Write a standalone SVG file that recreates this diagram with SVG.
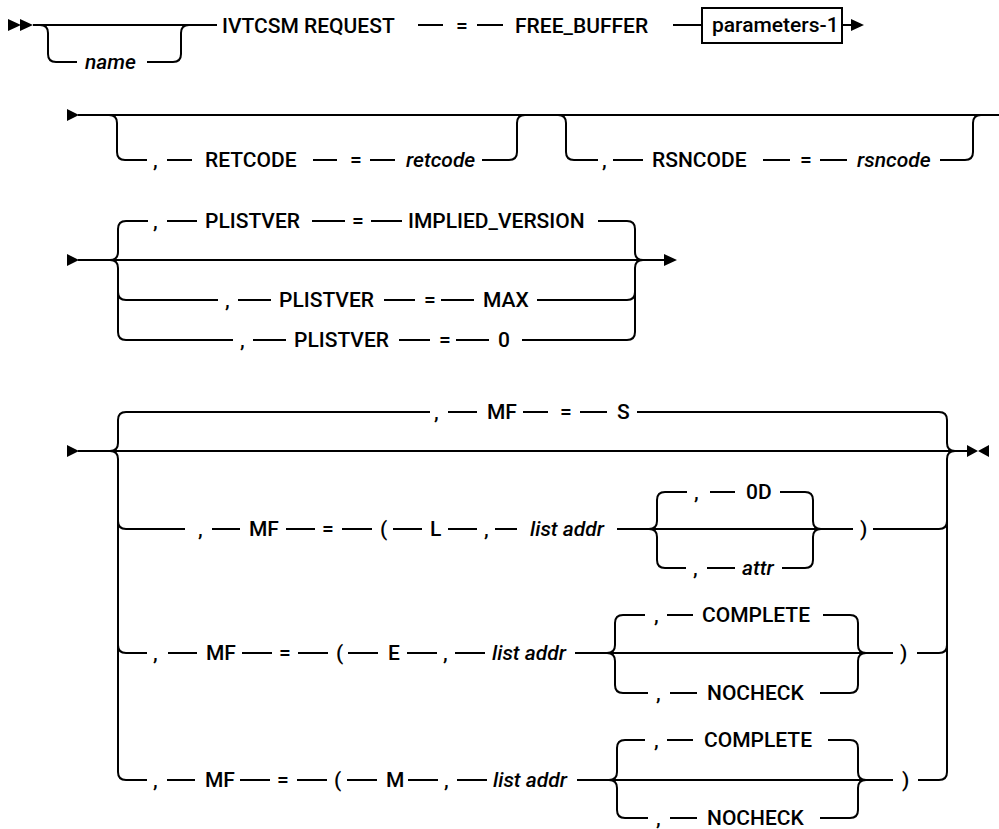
<svg xmlns="http://www.w3.org/2000/svg" width="999" height="829" viewBox="0 0 999 829">
<style>
text{font-family:Roboto,"Noto Sans","Liberation Sans",sans-serif;font-size:21px;font-weight:500;fill:#000}
.i{font-style:italic}
.c path{fill:none;stroke:#000;stroke-width:2}
.c path.a{fill:#000;stroke:none}
</style>
<rect width="999" height="829" fill="#fff"/>
<g id="connectors" class="c">
<path d="M33,25 H217 M40,25 Q48,25 48,33 V54 Q48,62 56,62 H77 M147,62 H173 Q181,62 181,54 V33 Q181,25 189,25"/>
<path d="M418,25 H443 M477,25 H503 M673,25 H702 M842,25 H852"/>
<path d="M78,115 H999"/>
<path d="M109,115 Q117,115 117,123 V152 Q117,160 125,160 H147 M167,160 H192 M313,160 H337 M370,160 H395 M482,160 H509 Q517,160 517,152 V123 Q517,115 525,115"/>
<path d="M558,115 Q566,115 566,123 V152 Q566,160 574,160 H598 M613,160 H643 M763,160 H790 M820,160 H847 M940,160 H965 Q973,160 973,152 V123 Q973,115 981,115"/>
<path d="M78,260 H665"/>
<path d="M110,260 Q118,260 118,252 V229 Q118,221 126,221 H148 M167,221 H197 M312,221 H345 M371,221 H402 M598,221 H627 Q635,221 635,229 V252 Q635,260 643,260"/>
<path d="M110,260 Q118,260 118,268 V332 Q118,340 126,340 H233 M118,292 Q118,300 126,300 H218"/>
<path d="M238,300 H271 M384,300 H415 M441,300 H474 M537,300 H627 Q635,300 635,292"/>
<path d="M253,340 H286 M399,340 H430 M456,340 H489 M522,340 H627 Q635,340 635,332 V268 Q635,260 643,260"/>
<path d="M78,451 H968"/>
<path d="M110,451 Q118,451 118,443 V420 Q118,412 126,412 H430 M448,412 H477 M523,412 H548 M580,412 H607 M637,412 H939 Q947,412 947,420 V443 Q947,451 955,451"/>
<path d="M110,451 Q118,451 118,459 V772 Q118,780 126,780 H147 M118,521 Q118,529 126,529 H185 M118,645 Q118,653 126,653 H147"/>
<path d="M939,529 Q947,529 947,521 M939,653 Q947,653 947,645 M939,780 Q947,780 947,772 V459 Q947,451 955,451"/>
<path d="M212,529 H240 M286,529 H315 M342,529 H372 M393,529 H422 M448,529 H477 M495,529 H517 M617,529 H853 M873,529 H939"/>
<path d="M649,529 Q657,529 657,521 V500 Q657,492 665,492 H687 M710,492 H735 M780,492 H805 Q813,492 813,500 V521 Q813,529 821,529"/>
<path d="M649,529 Q657,529 657,537 V560 Q657,568 665,568 H686 M707,568 H735 M782,568 H805 Q813,568 813,560 V537 Q813,529 821,529"/>
<path d="M168,653 H197 M242,653 H272 M298,653 H328 M348,653 H378 M407,653 H437 M455,653 H485 M575,653 H893 M917,653 H939"/>
<path d="M607,653 Q615,653 615,645 V623 Q615,615 623,615 H645 M667,615 H693 M823,615 H850 Q858,615 858,623 V645 Q858,653 866,653"/>
<path d="M607,653 Q615,653 615,661 V685 Q615,693 623,693 H648 M670,693 H697 M820,693 H850 Q858,693 858,685 V661 Q858,653 866,653"/>
<path d="M167,780 H195 M240,780 H270 M297,780 H327 M347,780 H377 M408,780 H438 M457,780 H487 M577,780 H893 M918,780 H939"/>
<path d="M609,780 Q617,780 617,772 V748 Q617,740 625,740 H645 M667,740 H693 M828,740 H850 Q858,740 858,748 V772 Q858,780 866,780"/>
<path d="M609,780 Q617,780 617,788 V810 Q617,818 625,818 H648 M670,818 H697 M820,818 H850 Q858,818 858,810 V788 Q858,780 866,780"/>
<path class="a" d="M8,19 L21,25 L8,31 Z M20,19 L33,25 L20,31 Z"/>
<path class="a" d="M851,19 L864,25 L851,31 Z"/>
<path class="a" d="M67,109 L79,115 L67,121 Z"/>
<path class="a" d="M67,254 L79,260 L67,266 Z M664,254 L677,260 L664,266 Z"/>
<path class="a" d="M67,445 L79,451 L67,457 Z M967,445 L978,451 L967,457 Z M989,445 L978,451 L989,457 Z"/>
<rect x="702" y="8" width="140" height="35" fill="none" stroke="#000" stroke-width="2"/>
</g>
<g id="row1">
<text x="85" y="69" class="i">name</text>
<text x="222" y="33">IVTCSM REQUEST</text>
<text x="456" y="33">=</text>
<text x="515" y="33">FREE_BUFFER</text>
<text x="712" y="32">parameters-1</text>
</g>
<g id="retcode">
<text x="153" y="167">,</text>
<text x="205" y="167">RETCODE</text>
<text x="350" y="167">=</text>
<text x="406" y="167" class="i">retcode</text>
</g>
<g id="rsncode">
<text x="602" y="167">,</text>
<text x="652" y="167">RSNCODE</text>
<text x="800" y="167">=</text>
<text x="857" y="167" class="i">rsncode</text>
</g>
<g id="plistver-implied">
<text x="153" y="228">,</text>
<text x="205" y="228">PLISTVER</text>
<text x="352" y="228">=</text>
<text x="408" y="228">IMPLIED_VERSION</text>
</g>
<g id="plistver-max">
<text x="225" y="307">,</text>
<text x="279" y="307">PLISTVER</text>
<text x="424" y="307">=</text>
<text x="483" y="307">MAX</text>
</g>
<g id="plistver-0">
<text x="240" y="347">,</text>
<text x="294" y="347">PLISTVER</text>
<text x="439" y="347">=</text>
<text x="498" y="347">0</text>
</g>
<g id="mf-s">
<text x="434" y="419">,</text>
<text x="487" y="419">MF</text>
<text x="560" y="419">=</text>
<text x="617" y="419">S</text>
</g>
<g id="mf-l">
<text x="198" y="536">,</text>
<text x="249" y="536">MF</text>
<text x="322" y="536">=</text>
<text x="380" y="536">(</text>
<text x="430" y="536">L</text>
<text x="484" y="536">,</text>
<text x="530" y="536" class="i">list addr</text>
<text x="694" y="499">,</text>
<text x="746" y="499">0D</text>
<text x="693" y="575">,</text>
<text x="742" y="575" class="i">attr</text>
<text x="860" y="536">)</text>
</g>
<g id="mf-e">
<text x="153" y="660">,</text>
<text x="206" y="660">MF</text>
<text x="279" y="660">=</text>
<text x="336" y="660">(</text>
<text x="388" y="660">E</text>
<text x="443" y="660">,</text>
<text x="492" y="660" class="i">list addr</text>
<text x="654" y="622">,</text>
<text x="702" y="622">COMPLETE</text>
<text x="656" y="700">,</text>
<text x="707" y="700">NOCHECK</text>
<text x="900" y="660">)</text>
</g>
<g id="mf-m">
<text x="153" y="787">,</text>
<text x="205" y="787">MF</text>
<text x="277" y="787">=</text>
<text x="334" y="787">(</text>
<text x="386" y="787">M</text>
<text x="444" y="787">,</text>
<text x="493" y="787" class="i">list addr</text>
<text x="654" y="747">,</text>
<text x="704" y="747">COMPLETE</text>
<text x="656" y="825">,</text>
<text x="707" y="825">NOCHECK</text>
<text x="902" y="787">)</text>
</g>
</svg>
